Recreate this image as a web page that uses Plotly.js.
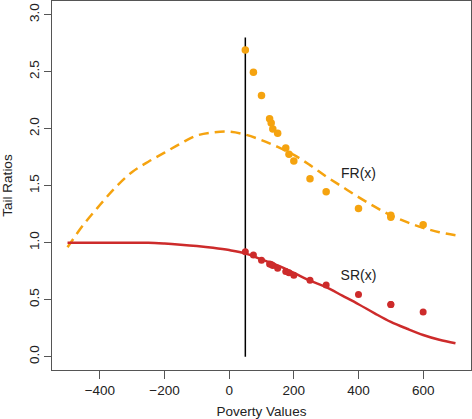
<!DOCTYPE html>
<html>
<head>
<meta charset="utf-8">
<script src="https://cdn.plot.ly/plotly-3.0.1.min.js"></script>
<style>html,body{margin:0;padding:0;background:#fff;}#chart{width:472px;height:419px;}</style>
</head>
<body>
<div id="chart"></div>
<script>
// Curve grid (poverty values)
var curveX = [-500,-450,-400,-350,-300,-250,-200,-150,-100,-50,0,50,100,150,200,250,300,350,400,450,500,550,600,650,700];
var frCurve = [0.96,1.16,1.33,1.49,1.62,1.71,1.79,1.87,1.94,1.967,1.974,1.948,1.90,1.84,1.77,1.68,1.58,1.49,1.40,1.316,1.24,1.18,1.13,1.092,1.065];
var srCurve = [1.0,1.0,1.0,1.0,1.0,0.999,0.992,0.982,0.97,0.955,0.935,0.906,0.853,0.80,0.735,0.667,0.61,0.535,0.46,0.38,0.305,0.245,0.19,0.148,0.117];
// Empirical points
var pointX = [50,75,100,125,130,135,150,175,185,200,250,300,400,500,500,600];
var frPoints = [2.69,2.495,2.29,2.088,2.05,1.997,1.96,1.83,1.775,1.717,1.56,1.447,1.30,1.24,1.222,1.158];
var srPoints = [0.921,0.892,0.846,0.812,0.808,0.80,0.775,0.748,0.737,0.714,0.67,0.628,0.545,0.458,0.458,0.392];
// Vertical reference line
var cutoffX = [50,50];
var cutoffY = [0,2.8];
// Labels
var labelText = ['FR(x)','SR(x)'];
var labelX = [400,400];
var labelY = [1.60,0.70];
var xTicks = [-400,-200,0,200,400,600];
var yTicks = [0,0.5,1,1.5,2,2.5,3];
var yTickText = ['0.0','0.5','1.0','1.5','2.0','2.5','3.0'];

var orange = '#F5A30F';
var red = '#CD2B2B';

var traces = [
  {x: curveX, y: frCurve, mode:'lines', line:{color:orange, width:2.5, dash:'10px,6px', shape:'spline', smoothing:1}, hoverinfo:'skip'},
  {x: curveX, y: srCurve, mode:'lines', line:{color:red, width:2.5, shape:'spline', smoothing:1}, hoverinfo:'skip'},
  {x: cutoffX, y: cutoffY, mode:'lines', line:{color:'#000', width:1.5}, hoverinfo:'skip'},
  {x: pointX, y: frPoints, mode:'markers', marker:{color:orange, size:7.5}},
  {x: pointX, y: srPoints, mode:'markers', marker:{color:red, size:7}},
  {x: labelX, y: labelY, mode:'text', text: labelText, textfont:{family:'Liberation Sans, Arial, sans-serif', size:14, color:'#222'}, textposition:'middle center'}
];

var axisFont = {family:'Liberation Sans, Arial, sans-serif', size:13.5, color:'#222'};
var layout = {
  width:472, height:419,
  margin:{l:52, r:1, t:1, b:49},
  showlegend:false,
  paper_bgcolor:'#fff', plot_bgcolor:'#fff',
  xaxis:{
    range:[-548,748], tickvals:xTicks, ticks:'outside', ticklen:8, tickcolor:'#555', tickwidth:1,
    showgrid:false, zeroline:false, showline:true, mirror:true, linecolor:'#555', linewidth:1,
    tickfont:axisFont, title:{text:'Poverty Values', font:axisFont, standoff:9}
  },
  yaxis:{
    range:[-0.117,3.12], tickvals:yTicks, ticktext:yTickText, tickangle:-90, ticks:'outside', ticklen:7, tickcolor:'#555', tickwidth:1,
    showgrid:false, zeroline:false, showline:true, mirror:true, linecolor:'#555', linewidth:1,
    tickfont:axisFont, title:{text:'Tail Ratios', font:axisFont, standoff:12}
  }
};
Plotly.newPlot('chart', traces, layout, {displayModeBar:false, staticPlot:true});
</script>
</body>
</html>
